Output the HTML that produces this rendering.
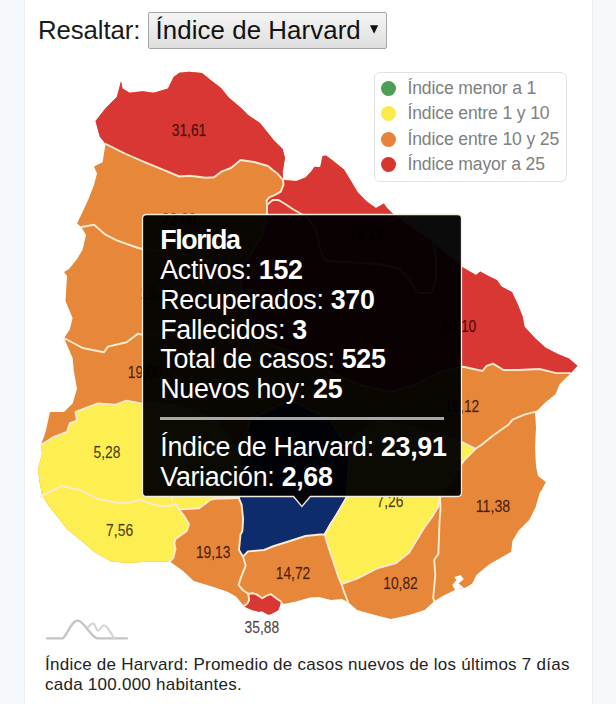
<!DOCTYPE html>
<html><head><meta charset="utf-8">
<style>
html,body{margin:0;padding:0;}
body{width:616px;height:704px;position:relative;overflow:hidden;background:#fff;font-family:"Liberation Sans",sans-serif;}
.strip{position:absolute;top:0;height:704px;background:#f6f9fb;}
.abs{position:absolute;white-space:pre;}
#lbl{left:38px;top:14.5px;font-size:25.8px;letter-spacing:-0.1px;color:#1a1a1a;line-height:30px;}
#sel{position:absolute;left:148px;top:12px;width:237px;height:35px;border:1px solid #a6a6a6;border-radius:2px;background:linear-gradient(#f5f5f5,#dedede);box-sizing:content-box;}
#seltxt{left:155.5px;top:14.5px;font-size:25.8px;letter-spacing:0.1px;color:#111;line-height:30px;}
#legend{position:absolute;left:374px;top:72px;width:191px;height:108px;border:1px solid #e2e2e2;border-radius:6px;background:#fff;}
.li{position:absolute;left:407.5px;font-size:17.6px;color:#808080;line-height:20px;letter-spacing:-0.15px;}
.dot{position:absolute;left:381px;width:15px;height:15px;border-radius:50%;}
svg{position:absolute;left:0;top:0;}
.ml{font-family:"Liberation Sans",sans-serif;font-size:15.8px;fill:rgba(20,0,0,0.72);stroke:rgba(20,0,0,0.45);stroke-width:0.35px;text-anchor:middle;}
#tip{position:absolute;left:142px;top:214px;width:319px;height:282px;border:1.3px solid #f3ece0;border-radius:4px;background:rgba(0,0,0,0.955);}
.tl{position:absolute;left:160.3px;font-size:26.8px;color:#fff;line-height:28px;letter-spacing:-0.3px;}
.tl b{font-weight:700;}
#sep{position:absolute;left:160px;top:417px;width:284px;height:2.5px;background:#a8a8a8;}
#foot{left:45px;top:655.3px;font-size:17px;color:#222;line-height:19.2px;letter-spacing:0.25px;}
</style></head><body>
<div class="strip" style="left:0;width:24px;border-right:1px solid #edf0f3;"></div>
<div class="strip" style="left:592px;width:24px;border-left:1px solid #edf0f3;"></div>

<div id="lbl" class="abs">Resaltar:</div>
<div id="sel"></div>
<div id="seltxt" class="abs">Índice de Harvard</div>
<svg width="616" height="704" style="pointer-events:none"><path d="M370 25.3 L378.2 25.3 L374.1 33.8 Z" fill="#111"/></svg>

<svg width="616" height="704" viewBox="0 0 616 704">
<g stroke-linejoin="round" stroke-linecap="round">
 <polygon fill="#e7873a" points="121,81.3 122.5,88.4 129.6,92.7 142.4,91.2 153.75,92.7 168,88.4 173.6,77 179.3,72.8 189,71.7 202,73 210,79.5 221,88 229,97.8 240.6,107.5 248.4,115.3 260,123 268,132.9 273.6,140 282.7,149 285,158 282.7,171.8 283,180 296.4,181 305.5,177.5 311,171.8 314.5,166.8 320.2,167.3 322.5,156 326,155.5 332.7,160.5 344,169.5 351,181 357.7,192.3 366.8,201.4 376,208 383.9,203.6 387,208 391.8,212.7 410,226 430,240 463.4,267.7 476,275 480.3,271.5 486.6,275 497.2,280.3 501.4,286.6 512,292 518.3,305.6 522.5,316.2 524.6,326.7 535.2,338.3 545.7,347.8 558.4,354.2 569,358.4 577.4,365.8 571,373.1 559.4,384.5 555.5,394.2 545.8,402 538,409.8 535,411.8 536,427.4 535,446.9 536,466.4 538,476 545.8,482 541.9,489.8 539.7,492.7 535.5,507.4 529.2,520 518.6,530.6 512.3,541.2 511.2,551.7 503.8,556 489,564.4 476.4,575 472.2,583.4 465.9,587.6 455.3,589.7 442.7,596 434.2,601.3 424.7,610 409,615 391,619 375,615 357,610 348,602 341.8,599 331,600 319,597 310,597.5 296,601.5 284,604 280.7,601.2 279.9,606 278,610.4 271,614 268.5,614.8 265,613 262.3,611.3 258.8,611.8 253.5,610.4 246.5,607.8 243.9,606 236,596.4 227.5,591.7 212,586.5 193.8,581 183,571 169.8,561.6 150,561.6 129,563 111,561.6 95,552.5 79.7,539.5 66.8,529 59,518.7 48.6,505.7 42,495 39.5,482 38,469 42,453.8 41,445 45.6,431.8 50,412 64,412 72.6,403.4 77,389 74,372 72.6,358 64,338 69.8,329.5 72.6,318 65.5,301 67,276 64,272 69,269 77,259 82.5,250 86,235 81.3,227 77,223.4 81.3,214.8 88.4,199.2 94,185 97,173.6 94,166.5 102.6,162.3 105.5,143.8 99.8,136.7 95.5,121 105.5,108.3 116.8,96.9 121,81.3"/>
 <polygon fill="#fff" points="454.3,577 460.6,575 463.8,579.2 458.5,583.4 463.8,587.6 455.3,590 452.2,585 456.4,580.2"/>
 <polygon fill="#d93733" points="121,81.3 122.5,88.4 129.6,92.7 142.4,91.2 153.75,92.7 168,88.4 173.6,77 179.3,72.8 189,71.7 202,73 210,79.5 221,88 229,97.8 240.6,107.5 248.4,115.3 260,123 268,132.9 273.6,140 282.7,149 285,158 282.7,171.8 283,180 277.3,173.4 272.7,170 268,166 254,162 240.6,160 231,168 222,171.3 214,177.2 205.6,177.7 190,175.7 179.3,176.5 162.3,169.4 145.2,162.3 125.3,153.75 105.5,143.8 99.8,136.7 95.5,121 105.5,108.3 116.8,96.9 121,81.3"/>
 <polygon fill="#d93733" points="283,180 296.4,181 305.5,177.5 311,171.8 314.5,166.8 320.2,167.3 322.5,156 326,155.5 332.7,160.5 344,169.5 351,181 357.7,192.3 366.8,201.4 376,208 383.9,203.6 387,208 391.8,212.7 410,226 430,240 463.4,267.7 476,275 480.3,271.5 486.6,275 497.2,280.3 501.4,286.6 512,292 518.3,305.6 522.5,316.2 524.6,326.7 535.2,338.3 545.7,347.8 558.4,354.2 569,358.4 577.4,365.8 571,373.1 556.3,373.1 539.4,369 518.3,370 503.5,370 493,363.6 486.6,365.8 482.4,371 463.4,366.8 440,372 415,385 390,392 360,385 330,372 300,355 270,345 250,335 245,300 238,272 250,255 262,235 267,214 267,205 266.5,200.7 269.3,197.3 276,194.4 280.7,191.6 283.5,184.8 283,180"/>
 <polygon fill="#fdee52" points="41,445 52.7,437.5 67,431.8 69.8,423.3 77,420.5 75.5,412 98,403.4 115,404.8 126.6,400.6 140.8,403.4 180,405 215,420 235,445 240,470 238.7,498 213.9,498.8 209.5,500.2 205,503.9 199.2,508.3 187.5,509 178.9,509.3 183.4,515 189,524 186.8,531 175.5,538.9 174.3,543.4 175.5,549 173.2,558.2 169.8,561.6 150,561.6 129,563 111,561.6 95,552.5 79.7,539.5 66.8,529 59,518.7 48.6,505.7 42,495 39.5,482 38,469 42,453.8 41,445"/>
 <polygon fill="#0e2c6c" stroke="#fdebd0" stroke-width="1.9" points="238.7,498 241.6,504.6 243.1,519.2 242.4,531 240.5,534.5 239,550 243,556.6 248,551.4 264,550 274,546 290,541 305.5,536 320,534.5 324.7,534.5 331,523 341.6,508.6 346.8,497 350,450 330,420 290,400 250,420 240,460 238.7,498"/>
 <polygon fill="#fdee52" stroke="#fdebd0" stroke-width="1.9" points="324.7,534.5 328.6,547.5 333.8,563 339,578.7 341.6,584 357,578.7 378,568 396,563 409,552.7 424,528 432,517 438,507 440,498 463.9,460.5 467.8,456.6 475.6,448.8 463.9,443 420,430 380,420 350,440 346.8,497"/>
 <polygon fill="#d93733" points="243.9,606 247.4,603.4 249.2,600 248.3,593.8 253.5,593.3 257,594.6 262.3,598.2 266.7,595.5 271,594.2 277.2,599 280.7,601.2 279.9,606 278,610.4 271,614 268.5,614.8 265,613 262.3,611.3 258.8,611.8 253.5,610.4 246.5,607.8 243.9,606"/>
 <polyline fill="none" stroke="#fdebd0" stroke-width="1.9" points="105.5,143.8 125.3,153.75 145.2,162.3 162.3,169.4 179.3,176.5 190,175.7 205.6,177.7 214,177.2 222,171.3 231,168 240.6,160 254,162 268,166 272.7,170 277.3,173.4 283,180"/>
 <polyline fill="none" stroke="#fdebd0" stroke-width="1.9" points="283,180 283.5,184.8 280.7,191.6 276,194.4 269.3,197.3 266.5,200.7 267,205 267,214 262,235 250,255 238,272"/>
 <polyline fill="none" stroke="#fdebd0" stroke-width="1.9" points="238,272 245,300 250,335"/>
 <polyline fill="none" stroke="#fdebd0" stroke-width="1.9" points="571,373.1 556.3,373.1 539.4,369 518.3,370 503.5,370 493,363.6 486.6,365.8 482.4,371 463.4,366.8 440,372 415,385 390,392 360,385 330,372 300,355 270,345 250,335"/>
 <polyline fill="none" stroke="#fdebd0" stroke-width="1.9" points="267,205 272.7,200 278.4,200 285.2,204 293,209.2 300,213.2 307,217 316,230 321,253 326,261 379,264 400,269 411,282 418,293 431,293 436,280 436,254 433,243"/>
 <polyline fill="none" stroke="#fdebd0" stroke-width="1.9" points="41,445 52.7,437.5 67,431.8 69.8,423.3 77,420.5 75.5,412 98,403.4 115,404.8 126.6,400.6 140.8,403.4 180,405 215,420 235,445 240,470 238.7,498"/>
 <polyline fill="none" stroke="#fdebd0" stroke-width="1.9" points="238.7,498 213.9,498.8 209.5,500.2 205,503.9 199.2,508.3 187.5,509 178.9,509.3 183.4,515 189,524 186.8,531 175.5,538.9 174.3,543.4 175.5,549 173.2,558.2 169.8,561.6"/>
 <polyline fill="none" stroke="#fdebd0" stroke-width="1.9" points="40.8,496.6 61.5,486 80,490 98,499 118.7,503 130,502.5 140.2,499.7 150.5,503.6 159.5,506 169.8,506 175.5,503.6 178.9,509.3"/>
 <polyline fill="none" stroke="#fdebd0" stroke-width="1.9" points="172,499.7 172,490"/>
 <polyline fill="none" stroke="#fdebd0" stroke-width="1.9" points="243.9,606 247.4,603.4 249.2,600 248.3,593.8 253.5,593.3 257,594.6 262.3,598.2 266.7,595.5 271,594.2 277.2,599 280.7,601.2"/>
 <polyline fill="none" stroke="#fdebd0" stroke-width="1.9" points="81.3,227 94,224.8 105.5,234.7 116.8,240.4 136.7,247.5 142.4,249 170,252 200,258 238,272"/>
 <polyline fill="none" stroke="#fdebd0" stroke-width="1.9" points="64,338 82.6,348 103.9,352.3 108,346.6 126.6,342.3 138,333.8 141.6,334.5 190,335 250,335"/>
 <polyline fill="none" stroke="#fdebd0" stroke-width="1.9" points="243,556.6 245.7,565.7 240.5,578.7 238.6,585 243,590.3 248.3,593.8"/>
 <polyline fill="none" stroke="#fdebd0" stroke-width="1.9" points="341.6,584 344,591.7 348,602"/>
 <polyline fill="none" stroke="#fdebd0" stroke-width="1.9" points="440,498 440.5,510 439.5,522 438.4,553.8 434.2,560 435.3,575 433.2,598 434.2,601.3"/>
 <polyline fill="none" stroke="#fdebd0" stroke-width="1.9" points="535,411.8 524.3,414.7 512.6,419.6 508.7,424.5 499,431.3 491.2,437.1 481.4,444.9 475.6,448.8"/>
</g>
<g>
 <text x="189" y="135.5" class="ml" textLength="34.5" lengthAdjust="spacingAndGlyphs">31,61</text>
 <text x="179" y="224.5" class="ml" textLength="34.5" lengthAdjust="spacingAndGlyphs">22,00</text>
 <text x="157.5" y="299" class="ml" textLength="34.5" lengthAdjust="spacingAndGlyphs">15,00</text>
 <text x="145" y="378" class="ml" textLength="34.5" lengthAdjust="spacingAndGlyphs">19,00</text>
 <text x="366" y="240" class="ml" textLength="34.5" lengthAdjust="spacingAndGlyphs">14,13</text>
 <text x="459" y="332" class="ml" textLength="34.5" lengthAdjust="spacingAndGlyphs">60,10</text>
 <text x="462" y="411.6" class="ml" textLength="34.5" lengthAdjust="spacingAndGlyphs">16,12</text>
 <text x="107" y="457.7" class="ml" textLength="27" lengthAdjust="spacingAndGlyphs">5,28</text>
 <text x="119.6" y="535.6" class="ml" textLength="27" lengthAdjust="spacingAndGlyphs">7,56</text>
 <text x="213.2" y="558" class="ml" textLength="34.5" lengthAdjust="spacingAndGlyphs">19,13</text>
 <text x="293" y="578.7" class="ml" textLength="34.5" lengthAdjust="spacingAndGlyphs">14,72</text>
 <text x="261.8" y="633.2" class="ml" textLength="34.5" lengthAdjust="spacingAndGlyphs">35,88</text>
 <text x="390" y="507.3" class="ml" textLength="27" lengthAdjust="spacingAndGlyphs">7,26</text>
 <text x="400.5" y="589" class="ml" textLength="34.5" lengthAdjust="spacingAndGlyphs">10,82</text>
 <text x="493" y="512" class="ml" textLength="34.5" lengthAdjust="spacingAndGlyphs">11,38</text>
</g>
<g fill="none" stroke-width="2.3" stroke-linecap="round">
 <path d="M47 638.4 L62.5 638.4 C67 636 71 620.6 77.6 620.6 C84 620.6 90 636 97 638.4 L127 638.4" stroke="#c4c4c4"/>
 <path d="M88.3 627 C90 625 91 623.5 93 623.5 C95.5 623.5 96 630.6 98 630.6 C100 630.6 101.5 625.3 104 625.3 C107.5 625.3 111 634 114.5 638.4" stroke="#d6d6d6"/>
</g>
</svg>

<div id="legend"></div>
<div class="dot" style="top:81px;background:#4e9e54;"></div>
<div class="dot" style="top:106px;background:#fbea4b;"></div>
<div class="dot" style="top:131.5px;background:#e8823a;"></div>
<div class="dot" style="top:156.5px;background:#d9352f;"></div>
<div class="li abs" style="top:78px;">Índice menor a 1</div>
<div class="li abs" style="top:103px;">Índice entre 1 y 10</div>
<div class="li abs" style="top:129px;">Índice entre 10 y 25</div>
<div class="li abs" style="top:154px;">Índice mayor a 25</div>

<svg width="616" height="704" viewBox="0 0 616 704"><path d="M146.5,214.5 H457.5 Q461.5,214.5 461.5,218.5 V492.5 Q461.5,496.5 457.5,496.5 H310.3 L301.9,506.4 L293.5,496.5 H146.5 Q142.5,496.5 142.5,492.5 V218.5 Q142.5,214.5 146.5,214.5 Z" fill="rgba(0,0,0,0.955)" stroke="#f3ece0" stroke-width="1.3"/></svg>
<div class="tl abs" style="top:226.3px;letter-spacing:-1.45px;"><b>Florida</b></div>
<div class="tl abs" style="top:256.3px;">Activos: <b>152</b></div>
<div class="tl abs" style="top:286.1px;">Recuperados: <b>370</b></div>
<div class="tl abs" style="top:316.1px;">Fallecidos: <b>3</b></div>
<div class="tl abs" style="top:345.3px;">Total de casos: <b>525</b></div>
<div class="tl abs" style="top:375.4px;">Nuevos hoy: <b>25</b></div>
<div id="sep"></div>
<div class="tl abs" style="top:433px;">Índice de Harvard: <b>23,91</b></div>
<div class="tl abs" style="top:463.1px;">Variación: <b>2,68</b></div>

<div id="foot" class="abs">Índice de Harvard: Promedio de casos nuevos de los últimos 7 días
cada 100.000 habitantes.</div>
</body></html>
